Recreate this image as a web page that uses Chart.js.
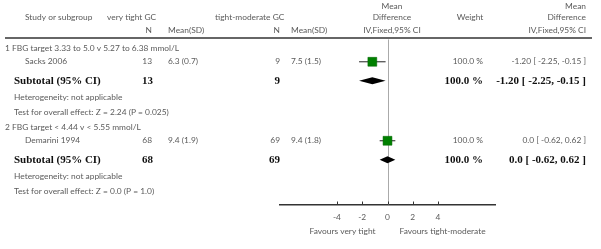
<!DOCTYPE html>
<html><head><meta charset="utf-8">
<script src="https://cdn.jsdelivr.net/npm/chart.js@4"></script>
<style>html,body{margin:0;padding:0;background:#fff}#wrap{width:601px;height:249px;position:relative}</style>
</head><body><div id="wrap"><canvas id="c"></canvas></div>
<script>
// ---- data ----
const groups = ['1 FBG target 3.33 to 5.0 v 5.27 to 6.38 mmol/L', '2 FBG target < 4.44 v < 5.55 mmol/L'];
const studies = ['Sacks 2006', 'Demarini 1994'];
const expN = [13, 68];
const expMeanSD = ['6.3 (0.7)', '9.4 (1.9)'];
const ctlN = [9, 69];
const ctlMeanSD = ['7.5 (1.5)', '9.4 (1.8)'];
const md = [-1.20, 0.0];
const ciLow = [-2.25, -0.62];
const ciHigh = [-0.15, 0.62];
const weights = ['100.0 %', '100.0 %'];
const ciText = ['-1.20 [ -2.25, -0.15 ]', '0.0 [ -0.62, 0.62 ]'];
const heterogeneity = ['Heterogeneity: not applicable', 'Heterogeneity: not applicable'];
const overallEffect = ['Test for overall effect: Z = 2.24 (P = 0.025)', 'Test for overall effect: Z = 0.0 (P = 1.0)'];
const xTicks = [-4, -2, 0, 2, 4];
const favours = ['Favours very tight', 'Favours tight-moderate'];

// ---- layout (row offsets in y-units below header rule) ----
const rowY = { grp: [11, 94], study: [25, 108], sub: [45, 128], het: [62, 145], test: [78, 161] };
const FONT = 'Lato, "Open Sans", sans-serif';
const SERIF = '"Liberation Serif", "DejaVu Serif", serif';
const GRAY = '#5a5a5a';
const FS = 8.4;

const squares = studies.map((s, i) => ({ x: md[i], y: rowY.study[i] }));
const ciDatasets = studies.map((s, i) => ({
  type: 'line', data: [{ x: ciLow[i], y: rowY.study[i] }, { x: ciHigh[i], y: rowY.study[i] }],
  borderColor: '#222', borderWidth: 1, pointRadius: 0, showLine: true, order: 2
}));

const textPlugin = {
  id: 'forestText',
  afterDraw(chart) {
    const ctx = chart.ctx, xs = chart.scales.x, ys = chart.scales.y;
    const Y = v => ys.getPixelForValue(v);
    const t = (s, x, y, align, font, color) => {
      ctx.save(); ctx.font = font; ctx.fillStyle = color; ctx.textAlign = align; ctx.textBaseline = 'middle';
      ctx.fillText(s, x, y); ctx.restore();
    };
    const f = FS + 'px ' + FONT, fb = 'bold 11px ' + SERIF;
    // headers
    t('Study or subgroup', 25, Y(-22), 'left', f, GRAY);
    t('very tight GC', 107, Y(-22), 'left', f, GRAY);
    t('tight-moderate GC', 215, Y(-22), 'left', f, GRAY);
    t('N', 152, Y(-8), 'right', f, GRAY);
    t('Mean(SD)', 168, Y(-8), 'left', f, GRAY);
    t('N', 280, Y(-8), 'right', f, GRAY);
    t('Mean(SD)', 291, Y(-8), 'left', f, GRAY);
    t('Mean', 392, Y(-33), 'center', f, GRAY);
    t('Difference', 392, Y(-22), 'center', f, GRAY);
    t('IV,Fixed,95% CI', 392, Y(-8), 'center', f, GRAY);
    t('Weight', 470, Y(-22), 'center', f, GRAY);
    t('Mean', 586, Y(-33), 'right', f, GRAY);
    t('Difference', 586, Y(-22), 'right', f, GRAY);
    t('IV,Fixed,95% CI', 586, Y(-8), 'right', f, GRAY);
    // header rule
    ctx.save(); ctx.strokeStyle = '#333'; ctx.lineWidth = 1.5;
    ctx.beginPath(); ctx.moveTo(5, Y(0)); ctx.lineTo(592, Y(0)); ctx.stroke(); ctx.restore();
    groups.forEach((g, i) => {
      t(g, 5, Y(rowY.grp[i]), 'left', f, GRAY);
      t(studies[i], 25, Y(rowY.study[i]), 'left', f, GRAY);
      t(String(expN[i]), 152, Y(rowY.study[i]), 'right', f, GRAY);
      t(expMeanSD[i], 168, Y(rowY.study[i]), 'left', f, GRAY);
      t(String(ctlN[i]), 280, Y(rowY.study[i]), 'right', f, GRAY);
      t(ctlMeanSD[i], 291, Y(rowY.study[i]), 'left', f, GRAY);
      t(weights[i], 483, Y(rowY.study[i]), 'right', f, GRAY);
      t(ciText[i], 586, Y(rowY.study[i]), 'right', f, GRAY);
      t('Subtotal (95% CI)', 14, Y(rowY.sub[i]), 'left', fb, '#111');
      t(String(expN[i]), 153, Y(rowY.sub[i]), 'right', fb, '#111');
      t(String(ctlN[i]), 280, Y(rowY.sub[i]), 'right', fb, '#111');
      t(weights[i], 483, Y(rowY.sub[i]), 'right', fb, '#111');
      t(ciText[i], 586, Y(rowY.sub[i]), 'right', fb, '#111');
      t(heterogeneity[i], 14, Y(rowY.het[i]), 'left', f, GRAY);
      t(overallEffect[i], 14, Y(rowY.test[i]), 'left', f, GRAY);
      // diamond
      const yc = Y(rowY.sub[i]);
      ctx.save(); ctx.fillStyle = '#000';
      ctx.beginPath();
      ctx.moveTo(xs.getPixelForValue(ciLow[i]), yc);
      ctx.lineTo(xs.getPixelForValue(md[i]), yc - 3.5);
      ctx.lineTo(xs.getPixelForValue(ciHigh[i]), yc);
      ctx.lineTo(xs.getPixelForValue(md[i]), yc + 3.5);
      ctx.closePath(); ctx.fill(); ctx.restore();
    });
    // tick marks
    ctx.save(); ctx.strokeStyle = '#333'; ctx.lineWidth = 1;
    xTicks.forEach(v => {
      const px = Math.round(xs.getPixelForValue(v)) + 0.5;
      ctx.beginPath(); ctx.moveTo(px, ys.bottom - 3); ctx.lineTo(px, ys.bottom); ctx.stroke();
    });
    ctx.restore();
    const x0 = xs.getPixelForValue(0);
    t(favours[0], x0 - 12, ys.bottom + 27, 'right', f, GRAY);
    t(favours[1], x0 + 12, ys.bottom + 27, 'left', f, GRAY);
  },
  beforeDatasetsDraw(chart) {
    const ctx = chart.ctx, xs = chart.scales.x, ys = chart.scales.y;
    const px = Math.round(xs.getPixelForValue(0)) + 0.5;
    ctx.save(); ctx.strokeStyle = '#aaa'; ctx.lineWidth = 1;
    ctx.beginPath(); ctx.moveTo(px, ys.getPixelForValue(1.5)); ctx.lineTo(px, ys.bottom); ctx.stroke(); ctx.restore();
  }
};

new Chart(document.getElementById('c'), {
  type: 'scatter',
  data: {
    datasets: [
      { data: squares, pointStyle: 'rect', pointRadius: 6.3, pointHoverRadius: 6.3,
        backgroundColor: '#008000', borderColor: '#006400', borderWidth: 0.5, order: 1 },
      ...ciDatasets
    ]
  },
  options: {
    responsive: true, maintainAspectRatio: false, animation: false,
    layout: { padding: { left: 280, right: 106, top: 38, bottom: 18.4 } },
    plugins: { legend: { display: false }, tooltip: { enabled: false } },
    scales: {
      x: {
        type: 'linear', min: -8.51, max: 8.51,
        afterBuildTicks: s => { s.ticks = xTicks.map(v => ({ value: v })); },
        grid: { display: false, drawTicks: false },
        border: { display: true, color: '#333', width: 1.5 },
        ticks: { padding: 8, font: { family: FONT, size: FS }, color: GRAY, maxRotation: 0, autoSkip: false }
      },
      y: { type: 'linear', reverse: true, min: 0, max: 175, display: false }
    }
  },
  plugins: [textPlugin]
});
</script></body></html>
